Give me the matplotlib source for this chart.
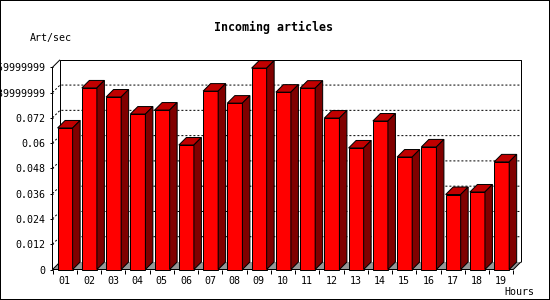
import matplotlib
matplotlib.use("Agg")
import matplotlib.pyplot as plt
from matplotlib.patches import Polygon, Rectangle

# ---- data ----
hours = ['01', '02', '03', '04', '05', '06', '07', '08', '09', '10',
         '11', '12', '13', '14', '15', '16', '17', '18', '19']
rates = [0.0672, 0.0862, 0.0819, 0.0738, 0.0757, 0.0591, 0.0847, 0.0790,
         0.0956, 0.0842, 0.0861, 0.0719, 0.0577, 0.0705, 0.0534, 0.0582,
         0.0356, 0.0368, 0.0511]
ytick_values = [0, 0.012, 0.024, 0.036, 0.048, 0.06, 0.072, 0.084, 0.096]
ytick_labels = ['0', '0.012', '0.024', '0.036', '0.048', '0.06', '0.072',
                '0.0839999999', '0.0959999999']
title = 'Incoming articles'
ylabel = 'Art/sec'
xlabel = 'Hours'

# ---- style ----
W, H = 550, 300
PX = 0.72  # one pixel in points at 100 dpi
mono = 'DejaVu Sans Mono'
front_c, top_c, side_c = '#ff0000', '#c00000', '#800000'
floor_c = '#969696'

fig = plt.figure(figsize=(W / 100, H / 100), dpi=100)
ax_left, ax_right, ax_bottom, ax_top = 52.5, 513.3, 269.5, 67.3
ax = fig.add_axes([ax_left / W, (H - ax_bottom) / H,
                   (ax_right - ax_left) / W, (ax_bottom - ax_top) / H])
n = len(hours)
ymax = ytick_values[-1]
ax.set_xlim(0, n)
ax.set_ylim(0, ymax)
for s in ax.spines.values():
    s.set_visible(False)

# 3D depth in data units (7.5 px)
depth_px = 7.5
dx = depth_px * n / (ax_right - ax_left)
dy = depth_px * ymax / (ax_bottom - ax_top)

lk = dict(color='black', lw=PX, clip_on=False, solid_capstyle='butt')

# floor
ax.add_patch(Polygon([(0, 0), (n, 0), (n + dx, dy), (dx, dy)], closed=True,
                     facecolor=floor_c, edgecolor='none', zorder=1, clip_on=False))

# gridlines on back wall and left wall
for t in ytick_values[1:-1]:
    ax.plot([0, dx, n + dx], [t, t + dy, t + dy], color='black', lw=PX,
            linestyle=(0, (2, 2)), zorder=1.5, clip_on=False)

# back wall frame
ax.plot([dx, dx, n + dx, n + dx], [dy, ymax + dy, ymax + dy, dy], zorder=1.6, **lk)
# left wall / axes
ax.plot([0, 0, dx], [0, ymax, ymax + dy], zorder=1.6, **lk)
ax.plot([0, n, n + dx], [0, 0, dy], zorder=1.6, **lk)
ax.plot([0, dx], [0, dy], zorder=1.2, **lk)

# bars
bw = 0.62
x = [i + 0.52 for i in range(n)]
ax.bar(x, rates, width=bw, color=front_c, edgecolor='black', linewidth=PX,
       zorder=3, clip_on=False)
for xi, v in zip(x, rates):
    l, r = xi - bw / 2, xi + bw / 2
    ax.add_patch(Polygon([(l, v), (r, v), (r + dx, v + dy), (l + dx, v + dy)],
                         closed=True, facecolor=top_c, edgecolor='black',
                         linewidth=PX, zorder=3, clip_on=False))
    ax.add_patch(Polygon([(r, 0), (r, v), (r + dx, v + dy), (r + dx, dy)],
                         closed=True, facecolor=side_c, edgecolor='black',
                         linewidth=PX, zorder=3, clip_on=False))

# ticks
ax.set_yticks(ytick_values)
ax.set_yticklabels(ytick_labels, fontfamily=mono, fontsize=7.2)
ax.tick_params(axis='y', direction='out', length=3 * PX, width=PX, pad=4.5 * PX)
ax.set_xticks(range(n + 1))
ax.set_xticklabels([])
ax.tick_params(axis='x', which='major', direction='out', length=4 * PX, width=PX)
ax.set_xticks([i + 0.5 for i in range(n)], minor=True)
ax.set_xticklabels(hours, minor=True, fontfamily=mono, fontsize=7.2)
ax.tick_params(axis='x', which='minor', length=0, pad=6 * PX)

# texts
fig.text(274 / W, 1 - 27 / H, title, ha='center', va='center',
         fontfamily=mono, fontweight='bold', fontsize=8.4)
fig.text(30 / W, 1 - 38 / H, ylabel, ha='left', va='center',
         fontfamily=mono, fontsize=7.2)
fig.text(534 / W, 1 - 292 / H, xlabel, ha='right', va='center',
         fontfamily=mono, fontsize=7.2)

# image border
fig.patches.append(Rectangle((0, 0), 1, 1, transform=fig.transFigure, fill=False,
                             edgecolor='black', linewidth=2 * PX))

fig.savefig('out.png', dpi=100)
